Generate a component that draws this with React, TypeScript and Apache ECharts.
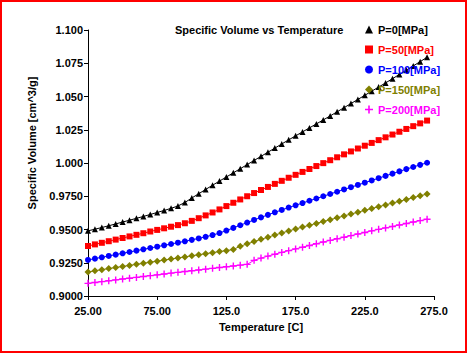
import React, { useEffect, useRef } from "react";
import * as echarts from "echarts";

const temperatures = [25, 30, 35, 40, 45, 50, 55, 60, 65, 70, 75, 80, 85, 90, 95, 100, 105, 110, 115, 120, 125, 130, 135, 140, 145, 150, 155, 160, 165, 170, 175, 180, 185, 190, 195, 200, 205, 210, 215, 220, 225, 230, 235, 240, 245, 250, 255, 260, 265, 270];

const p0 = [0.9490, 0.9502, 0.9515, 0.9528, 0.9542, 0.9556, 0.9570, 0.9584, 0.9598, 0.9613, 0.9628, 0.9643, 0.9659, 0.9677, 0.9703, 0.9737, 0.9769, 0.9801, 0.9833, 0.9864, 0.9895, 0.9926, 0.9957, 0.9988, 1.0019, 1.0050, 1.0081, 1.0112, 1.0143, 1.0174, 1.0204, 1.0234, 1.0264, 1.0294, 1.0324, 1.0354, 1.0385, 1.0416, 1.0447, 1.0478, 1.0509, 1.0540, 1.0571, 1.0602, 1.0634, 1.0666, 1.0698, 1.0730, 1.0762, 1.0795];
const p50 = [0.9376, 0.9388, 0.9400, 0.9412, 0.9424, 0.9436, 0.9448, 0.9460, 0.9472, 0.9485, 0.9497, 0.9509, 0.9521, 0.9533, 0.9547, 0.9565, 0.9585, 0.9606, 0.9628, 0.9651, 0.9676, 0.9701, 0.9726, 0.9750, 0.9774, 0.9797, 0.9820, 0.9843, 0.9866, 0.9889, 0.9911, 0.9933, 0.9955, 0.9977, 0.9999, 1.0021, 1.0043, 1.0065, 1.0087, 1.0109, 1.0130, 1.0151, 1.0172, 1.0193, 1.0214, 1.0235, 1.0256, 1.0277, 1.0298, 1.0319];
const p100 = [0.9271, 0.9281, 0.9291, 0.9301, 0.9311, 0.9321, 0.9331, 0.9341, 0.9351, 0.9361, 0.9371, 0.9381, 0.9391, 0.9401, 0.9411, 0.9422, 0.9433, 0.9445, 0.9458, 0.9473, 0.9492, 0.9512, 0.9532, 0.9552, 0.9572, 0.9591, 0.9610, 0.9629, 0.9647, 0.9665, 0.9682, 0.9699, 0.9716, 0.9733, 0.9750, 0.9767, 0.9784, 0.9801, 0.9818, 0.9835, 0.9852, 0.9869, 0.9886, 0.9903, 0.9920, 0.9937, 0.9954, 0.9970, 0.9986, 1.0002];
const p150 = [0.9180, 0.9189, 0.9198, 0.9206, 0.9214, 0.9222, 0.9230, 0.9238, 0.9246, 0.9254, 0.9262, 0.9270, 0.9278, 0.9286, 0.9294, 0.9302, 0.9310, 0.9318, 0.9326, 0.9334, 0.9341, 0.9350, 0.9374, 0.9392, 0.9409, 0.9426, 0.9442, 0.9458, 0.9474, 0.9489, 0.9504, 0.9518, 0.9532, 0.9546, 0.9560, 0.9574, 0.9588, 0.9602, 0.9616, 0.9630, 0.9644, 0.9658, 0.9671, 0.9685, 0.9699, 0.9712, 0.9726, 0.9740, 0.9753, 0.9767];
const p200 = [0.9095, 0.9102, 0.9108, 0.9115, 0.9121, 0.9128, 0.9134, 0.9140, 0.9147, 0.9153, 0.9159, 0.9165, 0.9172, 0.9178, 0.9184, 0.9190, 0.9196, 0.9202, 0.9208, 0.9214, 0.9220, 0.9226, 0.9232, 0.9238, 0.9268, 0.9285, 0.9300, 0.9314, 0.9328, 0.9341, 0.9354, 0.9367, 0.9380, 0.9393, 0.9406, 0.9418, 0.9430, 0.9442, 0.9454, 0.9466, 0.9478, 0.9490, 0.9501, 0.9512, 0.9523, 0.9534, 0.9545, 0.9556, 0.9567, 0.9577];

const xTicks = [25, 75, 125, 175, 225, 275];
const yTicks = [0.9, 0.925, 0.95, 0.975, 1.0, 1.025, 1.05, 1.075, 1.1];

const seriesNames = ["P=0[MPa]", "P=50[MPa]", "P=100[MPa]", "P=150[MPa]", "P=200[MPa]"];
const seriesColors = ["#000000", "#ff0000", "#0000ff", "#808000", "#ff00ff"];
const PLUS = "path://M2.8,0H4.2V2.8H7V4.2H4.2V7H2.8V4.2H0V2.8H2.8Z";
const seriesSymbols = ["triangle", "rect", "circle", "diamond", PLUS];
const seriesSizes = [6, 6, 6, 7, 7];
const seriesValues = [p0, p50, p100, p150, p200];

const FONT = "'Liberation Sans', Arial, sans-serif";

export default function App() {
  const ref = useRef<HTMLDivElement>(null);
  useEffect(() => {
    if (!ref.current) return;
    const chart = echarts.init(ref.current, undefined, { renderer: "svg" });
    chart.setOption({
      animation: false,
      backgroundColor: "#ffffff",
      textStyle: { fontFamily: FONT },
      title: {
        text: "Specific Volume vs Temperature",
        left: 175,
        top: 24,
        padding: 0,
        textStyle: { fontSize: 11, fontWeight: "bold", color: "#000", fontFamily: FONT },
      },
      legend: {
        orient: "vertical",
        left: 365,
        top: 24,
        padding: 0,
        itemWidth: 8,
        itemHeight: 8,
        itemGap: 9,
        itemTextGap: 5,
        textStyle: { fontSize: 11, fontWeight: "bold", fontFamily: FONT },
        data: seriesNames.map((n, i) => ({
          name: n,
          icon: seriesSymbols[i],
          textStyle: { color: seriesColors[i] },
        })),
      },
      grid: { left: 88, right: 33, top: 30, bottom: 57, containLabel: false },
      xAxis: {
        type: "value",
        min: 25,
        max: 275,
        name: "Temperature [C]",
        nameLocation: "middle",
        nameGap: 25,
        nameTextStyle: { fontSize: 11, fontWeight: "bold", color: "#000", fontFamily: FONT, verticalAlign: "top" },
        axisLine: { lineStyle: { color: "#000", width: 1 } },
        axisTick: { show: true, length: 4, customValues: xTicks, lineStyle: { color: "#000" } },
        axisLabel: {
          customValues: xTicks,
          margin: 9,
          fontSize: 11,
          fontWeight: "bold",
          color: "#000",
          fontFamily: FONT,
          formatter: (v: number) => v.toPrecision(4),
        },
        splitLine: { show: false },
      },
      yAxis: {
        type: "value",
        min: 0.9,
        max: 1.1,
        axisLine: { show: true, lineStyle: { color: "#000", width: 1 } },
        axisTick: { show: true, length: 4, customValues: yTicks, lineStyle: { color: "#000" } },
        axisLabel: {
          customValues: yTicks,
          margin: 5,
          fontSize: 11,
          fontWeight: "bold",
          color: "#000",
          fontFamily: FONT,
          formatter: (v: number) => v.toPrecision(4),
        },
        splitLine: { show: false },
      },
      graphic: [
        {
          type: "text",
          x: 32,
          y: 143,
          rotation: Math.PI / 2,
          style: {
            text: "Specific Volume [cm^3/g]",
            fontSize: 11,
            fontWeight: "bold",
            fontFamily: FONT,
            fill: "#000",
            align: "center",
            verticalAlign: "middle",
          },
        },
      ],
      series: seriesNames.map((n, i) => ({
        name: n,
        type: "line",
        data: temperatures.map((t, j) => [t, seriesValues[i][j]]),
        symbol: seriesSymbols[i],
        symbolSize: seriesSizes[i],
        showAllSymbol: true,
        itemStyle: { color: seriesColors[i] },
        lineStyle: { color: seriesColors[i], width: 1 },
        emphasis: { disabled: true },
      })),
    });
    return () => chart.dispose();
  }, []);
  return (
    <div style={{ position: "fixed", left: 0, top: 0, width: 467, height: 353 }}>
      <div ref={ref} style={{ position: "absolute", left: 0, top: 0, width: 467, height: 353 }} />
      <div
        style={{
          position: "absolute",
          left: 0,
          top: 0,
          width: 467,
          height: 353,
          boxSizing: "border-box",
          border: "2px solid #ff0000",
          pointerEvents: "none",
        }}
      />
    </div>
  );
}
